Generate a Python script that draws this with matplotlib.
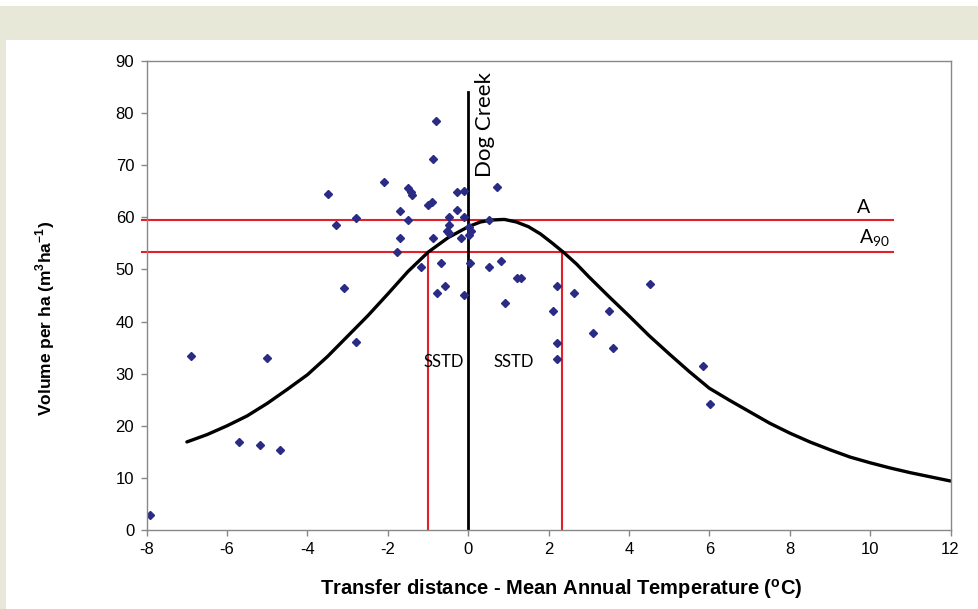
import matplotlib
matplotlib.use("Agg")
import matplotlib.pyplot as plt
from matplotlib.patches import Rectangle

plt.rcParams['font.family'] = ['Liberation Sans', 'DejaVu Sans']
plt.rcParams['axes.unicode_minus'] = False
plt.rcParams['mathtext.fontset'] = 'custom'
plt.rcParams['mathtext.rm'] = 'Lato'
plt.rcParams['mathtext.bf'] = 'Liberation Sans:bold'

# scatter points: transfer distance (MAT, oC) vs volume per ha
pt_x = [-0.79, -0.88, -2.09, -3.49, -1.51, -1.43, -1.39, -0.29, -0.10, 0.71,
        -0.99, -0.89, -0.29, -1.70, -2.80, -3.30, -1.50, -0.49, -0.10, 0.52,
        -0.49, -0.52, -0.48, 0.02, 0.06, 0.02, -1.70, -0.88, -0.19, -1.78,
        -1.18, -0.68, 0.04, 0.52, 0.81, 1.22, 1.32, -3.09, -0.58, -0.78,
        -0.10, 0.92, 2.20, 2.11, 2.62, 2.20, 2.20, 3.11, 3.51, 3.61,
        4.52, 5.83, 6.02, -7.92, -6.90, -5.00, -5.70, -5.19, -4.69, -2.80]
pt_y = [78.5, 71.2, 66.7, 64.4, 65.6, 64.9, 64.3, 64.9, 65.1, 65.8,
        62.4, 63.0, 61.4, 61.2, 59.9, 58.5, 59.4, 60.1, 60.0, 59.5,
        58.5, 57.4, 56.9, 58.2, 57.3, 56.6, 56.1, 56.1, 56.1, 53.4,
        50.4, 51.2, 51.2, 50.4, 51.7, 48.3, 48.3, 46.4, 46.9, 45.5,
        45.1, 43.5, 46.8, 42.1, 45.4, 35.8, 32.8, 37.8, 42.1, 35.0,
        47.2, 31.5, 24.1, 2.9, 33.3, 33.0, 16.9, 16.4, 15.4, 36.1]

# fitted response curve
curve_x = [-7.0, -6.5, -6.0, -5.5, -5.0, -4.5, -4.0, -3.5, -3.0, -2.5, -2.0, -1.5,
           -1.0, -0.5, 0.0, 0.3, 0.6, 0.9, 1.2, 1.5, 1.8, 2.1, 2.4, 2.7, 3.0,
           3.5, 4.0, 4.5, 5.0, 5.5, 6.0, 6.5, 7.0, 7.5, 8.0, 8.5, 9.0, 9.5,
           10.0, 10.5, 11.0, 11.5, 12.0]
curve_y = [16.9, 18.3, 20.0, 21.9, 24.3, 27.0, 29.8, 33.3, 37.2, 41.1, 45.3, 49.6,
           53.3, 56.1, 58.2, 59.1, 59.5, 59.6, 59.1, 58.2, 56.8, 55.0, 53.1, 51.0, 48.6,
           44.8, 41.1, 37.3, 33.8, 30.4, 27.2, 24.9, 22.7, 20.5, 18.6, 16.9, 15.4, 14.0,
           12.9, 11.9, 11.0, 10.2, 9.4]

A_level = 59.5
A90_level = 53.3
sstd_low = -1.0
sstd_high = 2.33
dog_creek = 0.0
dog_creek_top = 84

fig = plt.figure(figsize=(9.79, 6.09), dpi=100)
beige = '#e8e8d8'
fig.patches.append(Rectangle((0, 1 - 40/609), 1, 34/609, transform=fig.transFigure,
                             facecolor=beige, edgecolor='none', zorder=-10))
fig.patches.append(Rectangle((0, 0), 6/979, 1 - 40/609, transform=fig.transFigure,
                             facecolor=beige, edgecolor='none', zorder=-10))

ax = fig.add_axes([146.7/979, 79/609, 803.8/979, 469/609])

red = '#e0202a'
ax.axhline(A_level, xmin=-0.006, xmax=(10.58 + 8) / 20, color=red, lw=1.5, clip_on=False)
ax.axhline(A90_level, xmin=-0.006, xmax=(10.58 + 8) / 20, color=red, lw=1.5, clip_on=False)
ax.plot([sstd_low, sstd_low], [0, A90_level], color=red, lw=1.5)
ax.plot([sstd_high, sstd_high], [0, A90_level], color=red, lw=1.5)
ax.plot([dog_creek, dog_creek], [0, dog_creek_top], color='black', lw=2)

ax.plot(curve_x, curve_y, color='black', lw=2.4, solid_capstyle='round',
        solid_joinstyle='round')
ax.plot(pt_x, pt_y, linestyle='none', marker='D', ms=4.4, color='#2a2b85')

ax.text(9.66, 60.8, 'A', fontsize=14, family='Lato', ha='left', va='baseline')
ax.text(9.72, 54.9, r'A$_\mathrm{90}$', fontsize=14, family='Lato', ha='left',
        va='baseline')
ax.text(0.42, 67.8, 'Dog Creek', fontsize=16, family='Lato', rotation=90,
        ha='center', va='bottom')
ax.text(-0.61, 32.2, 'SSTD', fontsize=12, family='Lato', ha='center', va='center')
ax.text(1.12, 32.2, 'SSTD', fontsize=12, family='Lato', ha='center', va='center')

ax.set_xlim(-8, 12)
ax.set_ylim(0, 90)
ax.set_xticks(range(-8, 13, 2))
ax.set_yticks(range(0, 91, 10))
for s in ax.spines.values():
    s.set_color('#888888')
    s.set_linewidth(1.0)
ax.tick_params(direction='out', length=4, width=1, color='#888888',
               labelsize=12, pad=5)

ax.set_xlabel(r'Transfer distance - Mean Annual Temperature ($^\mathbf{o}$C)',
              fontsize=14.5, fontweight='bold')
ax.set_ylabel(r'Volume per ha (m$^\mathbf{3}$ha$^\mathbf{-1}$)',
              fontsize=12.5, fontweight='bold')
ax.xaxis.set_label_coords(0.515, -0.1)
ax.yaxis.set_label_coords(-0.112, 0.45)

fig.savefig('out.png', dpi=100)
